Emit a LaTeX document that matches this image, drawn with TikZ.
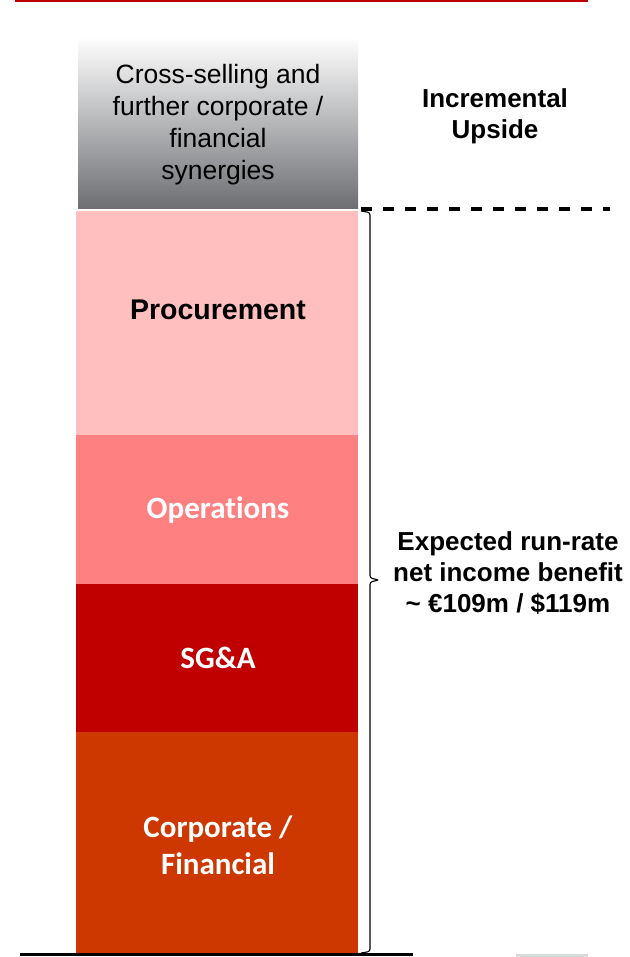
\documentclass[tikz,border=0pt]{standalone}
\usepackage{fontspec}
\setmainfont{Liberation Sans}
\newfontfamily\calfont[Ligatures=NoCommon]{Carlito}
\definecolor{procC}{RGB}{255,191,191}
\definecolor{operC}{RGB}{255,128,128}
\definecolor{sgaC}{RGB}{192,0,0}
\definecolor{corpC}{RGB}{205,55,0}
\definecolor{greyTop}{RGB}{252,252,252}
\definecolor{greyBot}{RGB}{108,110,114}
\definecolor{lightline}{RGB}{213,219,217}
\tikzset{
  whitelabel/.style={text=white,font=\calfont\bfseries\fontsize{31}{37}\selectfont,align=center},
  sidelabel/.style={font=\bfseries\fontsize{26}{31}\selectfont,align=center},
}
\begin{document}
\begin{tikzpicture}[x=1pt,y=-1pt]
\useasboundingbox (0,0) rectangle (629,957);
% top red rule
\draw[sgaC,line width=3] (15,1) -- (588,1);
% grey gradient box
\shade[top color=greyTop,bottom color=greyBot] (78,40) rectangle (358,209);
\node[align=center,font=\fontsize{26.5}{32}\selectfont] (cross) at (218,125) {Cross-selling and\\further corporate /\\financial\\synergies};
% stacked segments
\fill[procC] (76,211) rectangle (358,435);
\fill[operC] (76,435) rectangle (358,584);
\fill[sgaC] (76,584) rectangle (358,732);
\fill[corpC] (76,732) rectangle (358,953);
\node[font=\bfseries\fontsize{28.5}{34}\selectfont] (proc) at (218,310) {Procurement};
\node[whitelabel] (oper) at (218,510) {Operations};
\node[whitelabel] (sga) at (218,658) {SG\&A};
\node[whitelabel] (corp) at (218,845) {Corporate /\\Financial};
% dashed line
\draw[line width=3.5,dash pattern=on 11pt off 11pt] (361,209) -- (610,209);
% brace
\coordinate (bTop) at (361,211);
\coordinate (bBot) at (361,953);
\draw[line width=1.1,rounded corners=2.5] (bTop) -- (370,212.5) -- (370,578) -- (379,580) -- (370,582) -- (370,951.5) -- (bBot);
% bottom lines
\draw[black,line width=2.5] (20,954.5) -- (413,954.5);
\draw[lightline,line width=3] (516,955.5) -- (588,955.5);
% side labels
\node[sidelabel] (upside) at (495,116) {Incremental\\Upside};
\node[sidelabel] (benefit) at (508,573) {Expected run-rate\\net income benefit\\\textasciitilde{} €109m / \$119m};
\end{tikzpicture}
\end{document}
